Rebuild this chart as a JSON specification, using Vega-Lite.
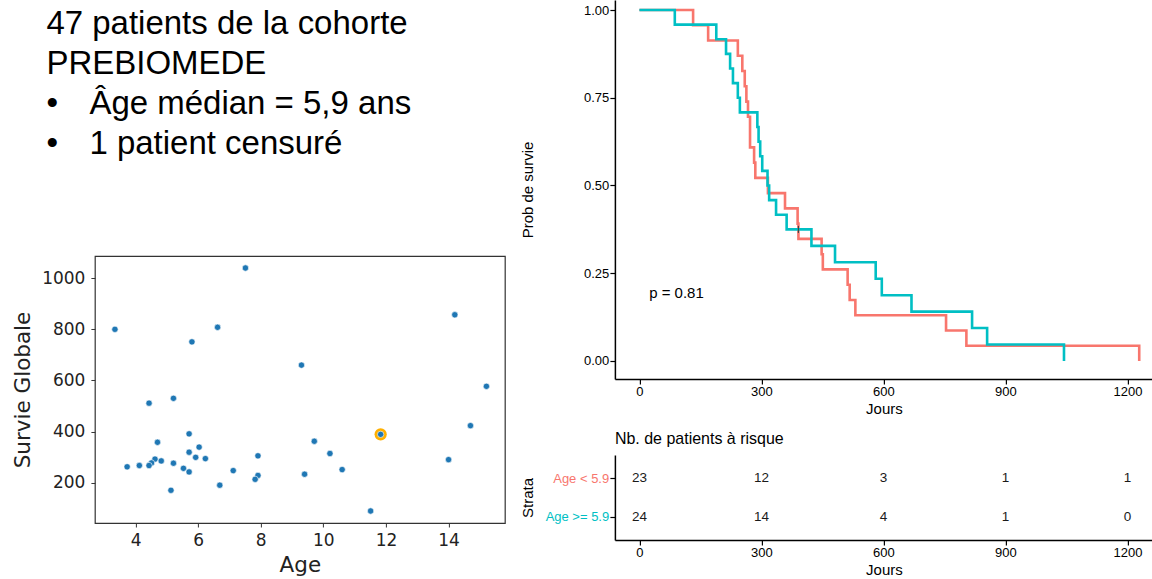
{
  "$schema": "https://vega.github.io/schema/vega-lite/v6.json",
  "padding": {"left": 10.9, "top": 0, "right": 0, "bottom": 0},
  "background": "white",
  "config": {"view": {"stroke": null}},
  "bounds": "flush",
  "spacing": 520,
  "datasets": {
    "texte": [
      {"ligne": 1, "niveau": 0, "texte": "47 patients de la cohorte"},
      {"ligne": 2, "niveau": 0, "texte": "PREBIOMEDE"},
      {"ligne": 3, "niveau": 0, "texte": "•"},
      {"ligne": 3, "niveau": 1, "texte": "Âge médian = 5,9 ans"},
      {"ligne": 4, "niveau": 0, "texte": "•"},
      {"ligne": 4, "niveau": 1, "texte": "1 patient censuré"}
    ],
    "scatter": [
      {"age": 3.34, "survie": 800}, {"age": 7.51, "survie": 1040}, {"age": 6.62, "survie": 808},
      {"age": 5.80, "survie": 751}, {"age": 9.30, "survie": 660}, {"age": 14.20, "survie": 857},
      {"age": 15.21, "survie": 577}, {"age": 4.43, "survie": 511}, {"age": 5.21, "survie": 530},
      {"age": 14.70, "survie": 423}, {"age": 11.83, "survie": 389}, {"age": 5.71, "survie": 391},
      {"age": 4.70, "survie": 358}, {"age": 9.71, "survie": 362}, {"age": 6.03, "survie": 339},
      {"age": 5.71, "survie": 319}, {"age": 10.21, "survie": 314}, {"age": 5.92, "survie": 299},
      {"age": 7.91, "survie": 305}, {"age": 6.23, "survie": 294}, {"age": 4.62, "survie": 292},
      {"age": 4.82, "survie": 285}, {"age": 4.51, "survie": 277}, {"age": 4.43, "survie": 267},
      {"age": 4.12, "survie": 267}, {"age": 3.73, "survie": 262}, {"age": 5.21, "survie": 276},
      {"age": 5.53, "survie": 256}, {"age": 5.71, "survie": 242}, {"age": 7.12, "survie": 247},
      {"age": 9.40, "survie": 233}, {"age": 10.60, "survie": 251}, {"age": 14.00, "survie": 290},
      {"age": 7.91, "survie": 228}, {"age": 7.82, "survie": 213}, {"age": 6.69, "survie": 190},
      {"age": 5.13, "survie": 170}, {"age": 11.51, "survie": 89}
    ],
    "highlight": [{"age": 11.83, "survie": 389}],
    "km": [
      {"groupe": "Age < 5.9", "jours": 0, "survie": 1},
      {"groupe": "Age < 5.9", "jours": 132, "survie": 0.9565},
      {"groupe": "Age < 5.9", "jours": 169, "survie": 0.9130},
      {"groupe": "Age < 5.9", "jours": 242, "survie": 0.8696},
      {"groupe": "Age < 5.9", "jours": 253, "survie": 0.8261},
      {"groupe": "Age < 5.9", "jours": 259, "survie": 0.7826},
      {"groupe": "Age < 5.9", "jours": 263, "survie": 0.7391},
      {"groupe": "Age < 5.9", "jours": 267, "survie": 0.6957},
      {"groupe": "Age < 5.9", "jours": 272, "survie": 0.6087},
      {"groupe": "Age < 5.9", "jours": 282, "survie": 0.5652},
      {"groupe": "Age < 5.9", "jours": 285, "survie": 0.5217},
      {"groupe": "Age < 5.9", "jours": 316, "survie": 0.4783},
      {"groupe": "Age < 5.9", "jours": 358, "survie": 0.4348},
      {"groupe": "Age < 5.9", "jours": 389, "survie": 0.3913},
      {"groupe": "Age < 5.9", "jours": 391, "survie": 0.3478},
      {"groupe": "Age < 5.9", "jours": 448, "survie": 0.3043},
      {"groupe": "Age < 5.9", "jours": 451, "survie": 0.2609},
      {"groupe": "Age < 5.9", "jours": 512, "survie": 0.2174},
      {"groupe": "Age < 5.9", "jours": 517, "survie": 0.1739},
      {"groupe": "Age < 5.9", "jours": 531, "survie": 0.1304},
      {"groupe": "Age < 5.9", "jours": 754, "survie": 0.0870},
      {"groupe": "Age < 5.9", "jours": 804, "survie": 0.0435},
      {"groupe": "Age < 5.9", "jours": 1229, "survie": 0},
      {"groupe": "Age >= 5.9", "jours": 0, "survie": 1},
      {"groupe": "Age >= 5.9", "jours": 87, "survie": 0.9583},
      {"groupe": "Age >= 5.9", "jours": 189, "survie": 0.9167},
      {"groupe": "Age >= 5.9", "jours": 213, "survie": 0.875},
      {"groupe": "Age >= 5.9", "jours": 223, "survie": 0.8333},
      {"groupe": "Age >= 5.9", "jours": 230, "survie": 0.7917},
      {"groupe": "Age >= 5.9", "jours": 242, "survie": 0.75},
      {"groupe": "Age >= 5.9", "jours": 247, "survie": 0.7083},
      {"groupe": "Age >= 5.9", "jours": 290, "survie": 0.6667},
      {"groupe": "Age >= 5.9", "jours": 293, "survie": 0.625},
      {"groupe": "Age >= 5.9", "jours": 297, "survie": 0.5833},
      {"groupe": "Age >= 5.9", "jours": 302, "survie": 0.5417},
      {"groupe": "Age >= 5.9", "jours": 315, "survie": 0.5},
      {"groupe": "Age >= 5.9", "jours": 319, "survie": 0.4583},
      {"groupe": "Age >= 5.9", "jours": 336, "survie": 0.4167},
      {"groupe": "Age >= 5.9", "jours": 362, "survie": 0.375},
      {"groupe": "Age >= 5.9", "jours": 423, "survie": 0.3281},
      {"groupe": "Age >= 5.9", "jours": 481, "survie": 0.2813},
      {"groupe": "Age >= 5.9", "jours": 581, "survie": 0.2344},
      {"groupe": "Age >= 5.9", "jours": 596, "survie": 0.1875},
      {"groupe": "Age >= 5.9", "jours": 669, "survie": 0.1406},
      {"groupe": "Age >= 5.9", "jours": 818, "survie": 0.0938},
      {"groupe": "Age >= 5.9", "jours": 855, "survie": 0.0469},
      {"groupe": "Age >= 5.9", "jours": 1044, "survie": 0}
    ],
    "censure": [{"groupe": "Age >= 5.9", "jours": 391, "survie": 0.375}],
    "pval": [{"jours": 24, "survie": 0.195, "texte": "p = 0.81"}],
    "risque": [
      {"groupe": "Age < 5.9", "jours": 0, "n": 23},
      {"groupe": "Age < 5.9", "jours": 300, "n": 12},
      {"groupe": "Age < 5.9", "jours": 600, "n": 3},
      {"groupe": "Age < 5.9", "jours": 900, "n": 1},
      {"groupe": "Age < 5.9", "jours": 1200, "n": 1},
      {"groupe": "Age >= 5.9", "jours": 0, "n": 24},
      {"groupe": "Age >= 5.9", "jours": 300, "n": 14},
      {"groupe": "Age >= 5.9", "jours": 600, "n": 4},
      {"groupe": "Age >= 5.9", "jours": 900, "n": 1},
      {"groupe": "Age >= 5.9", "jours": 1200, "n": 0}
    ]
  },
  "hconcat": [
    {
      "bounds": "flush",
      "spacing": 76,
      "vconcat": [
        {
          "width": 410,
          "height": 180,
          "data": {"name": "texte"},
          "mark": {"type": "text", "align": "left", "baseline": "alphabetic", "font": "Liberation Sans", "fontSize": 33, "color": "black"},
          "encoding": {
            "x": {"field": "niveau", "type": "quantitative", "scale": {"domain": [1.128, 10.663], "nice": false, "zero": false}, "axis": null},
            "y": {"field": "ligne", "type": "quantitative", "scale": {"domain": [0.15, 4.65], "reverse": true, "nice": false, "zero": false}, "axis": null},
            "text": {"field": "texte"}
          }
        },
        {
          "width": 410,
          "height": 267,
          "view": {"stroke": "#333", "strokeWidth": 1.2},
          "layer": [
            {
              "data": {"name": "highlight"},
              "mark": {"type": "circle", "size": 150, "color": "#FFB000", "opacity": 1},
              "encoding": {
                "x": {"field": "age", "type": "quantitative"},
                "y": {"field": "survie", "type": "quantitative"}
              }
            },
            {
              "data": {"name": "scatter"},
              "mark": {"type": "circle", "size": 40, "color": "#1f77b4", "opacity": 1, "stroke": "white", "strokeWidth": 0.6},
              "encoding": {
                "x": {"field": "age", "type": "quantitative"},
                "y": {"field": "survie", "type": "quantitative"}
              }
            }
          ],
          "encoding": {
            "x": {
              "field": "age", "type": "quantitative",
              "scale": {"domain": [2.70, 15.80], "nice": false, "zero": false},
              "axis": {"title": "Age", "values": [4, 6, 8, 10, 12, 14], "format": "d", "grid": false, "domain": false, "tickColor": "#333", "tickSize": 4, "tickWidth": 1, "labelFont": "DejaVu Sans", "labelFontSize": 17, "labelColor": "#222", "labelPadding": 5.5, "titleFont": "DejaVu Sans", "titleFontSize": 21.5, "titleFontWeight": "normal", "titleColor": "#222", "titlePadding": 6}
            },
            "y": {
              "field": "survie", "type": "quantitative",
              "scale": {"domain": [42, 1087], "nice": false, "zero": false},
              "axis": {"title": "Survie Globale", "values": [200, 400, 600, 800, 1000], "format": "d", "grid": false, "domain": false, "tickColor": "#333", "tickSize": 4, "tickWidth": 1, "labelFont": "DejaVu Sans", "labelFontSize": 17, "labelColor": "#222", "labelPadding": 6, "titleFont": "DejaVu Sans", "titleFontSize": 21.5, "titleFontWeight": "normal", "titleColor": "#222", "titlePadding": 7.4}
            }
          }
        }
      ]
    },
    {
      "bounds": "flush",
      "spacing": 76,
      "vconcat": [
        {
          "width": 538,
          "height": 379,
          "layer": [
            {
              "data": {"name": "km"},
              "mark": {"type": "line", "interpolate": "step-after", "strokeWidth": 2.6},
              "encoding": {
                "x": {"field": "jours", "type": "quantitative"},
                "y": {"field": "survie", "type": "quantitative"},
                "color": {"field": "groupe", "type": "nominal", "scale": {"domain": ["Age < 5.9", "Age >= 5.9"], "range": ["#F8766D", "#00BFC4"]}, "legend": null}
              }
            },
            {
              "data": {"name": "censure"},
              "mark": {"type": "point", "shape": "M0,-1L0,1", "size": 50, "filled": false, "stroke": "#444", "strokeWidth": 1.2, "opacity": 1},
              "encoding": {
                "x": {"field": "jours", "type": "quantitative"},
                "y": {"field": "survie", "type": "quantitative"}
              }
            },
            {
              "data": {"name": "pval"},
              "mark": {"type": "text", "align": "left", "baseline": "middle", "font": "Liberation Sans", "fontSize": 15, "color": "black"},
              "encoding": {
                "x": {"field": "jours", "type": "quantitative"},
                "y": {"field": "survie", "type": "quantitative"},
                "text": {"field": "texte"}
              }
            }
          ],
          "encoding": {
            "x": {
              "field": "jours", "type": "quantitative",
              "scale": {"domain": [-60.3, 1262.6], "nice": false, "zero": false},
              "axis": {"title": "Jours", "values": [0, 300, 600, 900, 1200], "format": "d", "grid": false, "domainColor": "black", "domainWidth": 1.5, "tickColor": "black", "tickSize": 5, "tickWidth": 1.2, "labelFont": "Liberation Sans", "labelFontSize": 13, "labelColor": "black", "labelPadding": 1.5, "titleFont": "Liberation Sans", "titleFontSize": 15, "titleFontWeight": "normal", "titleColor": "black", "titlePadding": 3}
            },
            "y": {
              "field": "survie", "type": "quantitative",
              "scale": {"domain": [-0.0513, 1.0285], "nice": false, "zero": false},
              "axis": {"title": "Prob de survie", "values": [0, 0.25, 0.5, 0.75, 1], "format": ".2f", "grid": false, "domainColor": "black", "domainWidth": 1.5, "tickColor": "black", "tickSize": 5, "tickWidth": 1.2, "labelFont": "Liberation Sans", "labelFontSize": 13, "labelColor": "black", "labelPadding": 1.2, "titleFont": "Liberation Sans", "titleFontSize": 15, "titleFontWeight": "normal", "titleColor": "black", "titlePadding": 47.8}
            }
          }
        },
        {
          "width": 538,
          "height": 85,
          "title": {"text": "Nb. de patients à risque", "anchor": "start", "frame": "group", "baseline": "bottom", "offset": -7.7, "font": "Liberation Sans", "fontSize": 16, "fontWeight": "normal", "color": "black"},
          "data": {"name": "risque"},
          "mark": {"type": "text", "baseline": "middle", "align": "center", "font": "Liberation Sans", "fontSize": 13.5, "color": "#1a1a1a"},
          "encoding": {
            "x": {
              "field": "jours", "type": "quantitative",
              "scale": {"domain": [-60.3, 1262.6], "nice": false, "zero": false},
              "axis": {"title": "Jours", "values": [0, 300, 600, 900, 1200], "format": "d", "grid": false, "domainColor": "black", "domainWidth": 1.5, "tickColor": "black", "tickSize": 5, "tickWidth": 1.2, "labelFont": "Liberation Sans", "labelFontSize": 13, "labelColor": "black", "labelPadding": 1.5, "titleFont": "Liberation Sans", "titleFontSize": 15, "titleFontWeight": "normal", "titleColor": "black", "titlePadding": 3}
            },
            "y": {
              "field": "groupe", "type": "nominal",
              "scale": {"type": "point", "domain": ["Age < 5.9", "Age >= 5.9"], "padding": 0.59},
              "axis": {"title": "Strata", "grid": false, "domainColor": "black", "domainWidth": 1.5, "tickColor": "black", "tickSize": 5, "tickWidth": 1.2, "labelFont": "Liberation Sans", "labelFontSize": 13, "labelColor": {"condition": {"test": "datum.value === 'Age < 5.9'", "value": "#F8766D"}, "value": "#00BFC4"}, "labelPadding": 1.2, "titleFont": "Liberation Sans", "titleFontSize": 15, "titleFontWeight": "normal", "titleColor": "black", "titlePadding": 9.7}
            },
            "text": {"field": "n", "type": "quantitative"}
          }
        }
      ]
    }
  ]
}
